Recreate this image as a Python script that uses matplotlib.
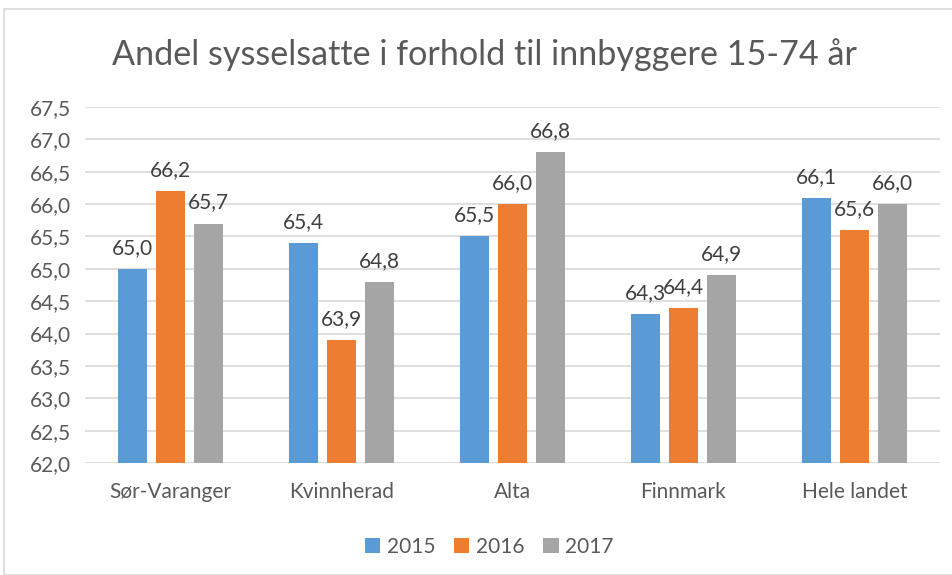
import matplotlib

matplotlib.use("Agg")
import matplotlib.pyplot as plt
import numpy as np
from matplotlib.patches import Rectangle

# ---------------------------------------------------------------------------
# Data
# ---------------------------------------------------------------------------
CATEGORIES = ["Sør-Varanger", "Kvinnherad", "Alta", "Finnmark", "Hele landet"]
YEARS = ["2015", "2016", "2017"]
VALUES_2015 = [65.0, 65.4, 65.5, 64.3, 66.1]
VALUES_2016 = [66.2, 63.9, 66.0, 64.4, 65.6]
VALUES_2017 = [65.7, 64.8, 66.8, 64.9, 66.0]
TITLE = "Andel sysselsatte i forhold til innbyggere 15-74 år"

COLORS = ["#5B9BD5", "#ED7D31", "#A5A5A5"]
TEXT_COLOR = "#595959"
GRID_COLOR = "#D9D9D9"
FS = 15

plt.rcParams["font.family"] = ["Lato", "DejaVu Sans"]


def fmt(v):
    return f"{v:.1f}".replace(".", ",")


def main():
    fig = plt.figure(figsize=(9.52, 5.75), dpi=100)
    fig.patch.set_facecolor("white")
    fig.patches.append(Rectangle((4 / 952, 0.0), 1.0, 1 - 9 / 575,
                                 transform=fig.transFigure, fill=False,
                                 edgecolor="#D9D9D9", linewidth=1.2))

    ax = fig.add_axes([85 / 952, 1 - 463 / 575, 855 / 952, (463 - 107) / 575])

    x = np.arange(len(CATEGORIES))
    width = 0.17
    step = 0.22
    series = [VALUES_2015, VALUES_2016, VALUES_2017]
    for k, (vals, col, year) in enumerate(zip(series, COLORS, YEARS)):
        pos = x + (k - 1) * step
        ax.bar(pos, np.array(vals) - 62.0, bottom=62.0, width=width,
               color=col, label=year, zorder=3)
        for p, v in zip(pos, vals):
            ax.text(p, v + 0.17, fmt(v), ha="center", va="bottom",
                    fontsize=FS, color="#404040", zorder=4)

    ax.set_ylim(62.0, 67.5)
    ax.set_xlim(-0.5, len(CATEGORIES) - 0.5)
    yt = np.arange(62.0, 67.51, 0.5)
    ax.set_yticks(yt)
    ax.set_yticklabels([fmt(v) for v in yt], fontsize=FS, color=TEXT_COLOR)
    ax.set_xticks(x)
    ax.set_xticklabels(CATEGORIES, fontsize=FS, color=TEXT_COLOR)
    ax.tick_params(axis="both", length=0)
    ax.tick_params(axis="x", pad=14)
    ax.tick_params(axis="y", pad=10)
    ax.grid(axis="y", color=GRID_COLOR, linewidth=1.2, zorder=0)
    for s in ax.spines.values():
        s.set_visible(False)

    fig.text(485 / 952, 1 - 55 / 575, TITLE, ha="center", va="center",
             fontsize=24.6, color=TEXT_COLOR)

    fig.legend(loc="center", bbox_to_anchor=(489 / 952, 1 - 547 / 575),
               ncol=3, frameon=False, fontsize=FS, labelcolor=TEXT_COLOR,
               handlelength=0.75, handleheight=0.75, handletextpad=0.3,
               columnspacing=0.9)

    fig.savefig("out.png", dpi=100, facecolor="white")
    plt.close(fig)


if __name__ == "__main__":
    main()
